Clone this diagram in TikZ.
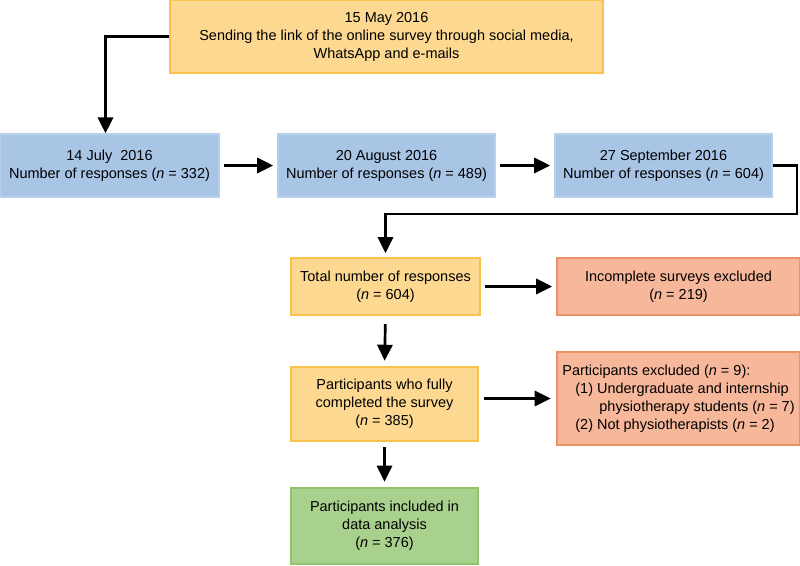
\documentclass[tikz,border=0pt]{standalone}
\usepackage{fontspec}
\setmainfont{Liberation Sans}
\usepackage{tikz}
\usetikzlibrary{arrows.meta}

\definecolor{ylwfill}{HTML}{FDD891}
\definecolor{ylwline}{HTML}{F8C24C}
\definecolor{bluefill}{HTML}{A9C5E6}
\definecolor{blueline}{HTML}{B9D0EC}
\definecolor{redfill}{HTML}{F7B79B}
\definecolor{redline}{HTML}{EC9168}
\definecolor{grnfill}{HTML}{A9D18E}
\definecolor{grnline}{HTML}{8FC46D}

\tikzset{
    box/.style={draw, rectangle, line width=0.9pt, align=center, inner sep=2pt,
        font=\fontsize{10.3}{12.8}\selectfont},
    ylwbox/.style={box, fill=ylwfill, draw=ylwline},
    bluebox/.style={box, fill=bluefill, draw=blueline, minimum height=1.575cm},
    redbox/.style={box, fill=redfill, draw=redline, minimum width=6.075cm},
    grnbox/.style={box, fill=grnfill, draw=grnline},
    arr/.style={-{Triangle[length=0.4cm, width=0.38cm]}, line width=1.9pt},
}

\begin{document}
\begin{tikzpicture}[x=0.025cm, y=-0.025cm]
    \useasboundingbox (0,0) rectangle (800,565);
    \node[ylwbox, minimum width=10.825cm, minimum height=1.825cm] (May) at (386.5,36.5)
        {15 May 2016\\Sending the link of the online survey through social media,\\WhatsApp and e-mails};
    \node[bluebox, minimum width=5.475cm] (Jul) at (109.5,165.5) {14 July\ \ 2016\\Number of responses (\textit{n} = 332)};
    \node[bluebox, minimum width=5.425cm] (Aug) at (386.5,165.5) {20 August 2016\\Number of responses (\textit{n} = 489)};
    \node[bluebox, minimum width=5.425cm] (Sep) at (663.5,165.5) {27 September 2016\\Number of responses (\textit{n} = 604)};
    \node[ylwbox, minimum width=4.725cm, minimum height=1.425cm] (Total) at (385.5,286.5)
        {Total number of responses\\(\textit{n} = 604)};
    \node[redbox, minimum height=1.425cm] (Incompl) at (678.5,286.5)
        {Incomplete surveys excluded\\(\textit{n} = 219)};
    \node[ylwbox, minimum width=4.675cm, minimum height=1.85cm] (Full) at (384.5,404)
        {Participants who fully\\completed the survey\\(\textit{n} = 385)};
    \node[redbox, minimum height=2.325cm, align=left] (Excl) at (678.5,398.5)
        {Participants excluded (\textit{n} = 9):\\
        \hspace{0.325cm}(1) Undergraduate and internship\\
        \hspace{0.925cm}physiotherapy students (\textit{n} = 7)\\
        \hspace{0.325cm}(2) Not physiotherapists (\textit{n} = 2)};
    \node[grnbox, minimum width=4.675cm, minimum height=1.9cm] (Incl) at (384.5,526)
        {Participants included in\\data analysis\\(\textit{n} = 376)};
    \coordinate (turn) at (797,214);
    \draw[arr] (May.west) -| ([xshift=-0.1cm]Jul.north);
    \draw[arr, shorten <=3pt, shorten >=3pt] (Jul.east) -- (Aug.west);
    \draw[arr, shorten <=3pt, shorten >=3pt] (Aug.east) -- (Sep.west);
    \draw[arr, shorten >=3pt] (Sep.east) -| (turn) -| (Total.north);
    \draw[arr, shorten <=3pt, shorten >=3pt] (Total.east) -- (Incompl.west);
    \draw[arr, shorten <=6pt, shorten >=4pt] (Total.south) -- (Full.north);
    \draw[arr, shorten <=4pt, shorten >=4pt] (Excl.west -| Full.east) -- (Excl.west);
    \draw[arr, shorten <=4pt, shorten >=4pt] (Full.south) -- (Incl.north);
\end{tikzpicture}
\end{document}
